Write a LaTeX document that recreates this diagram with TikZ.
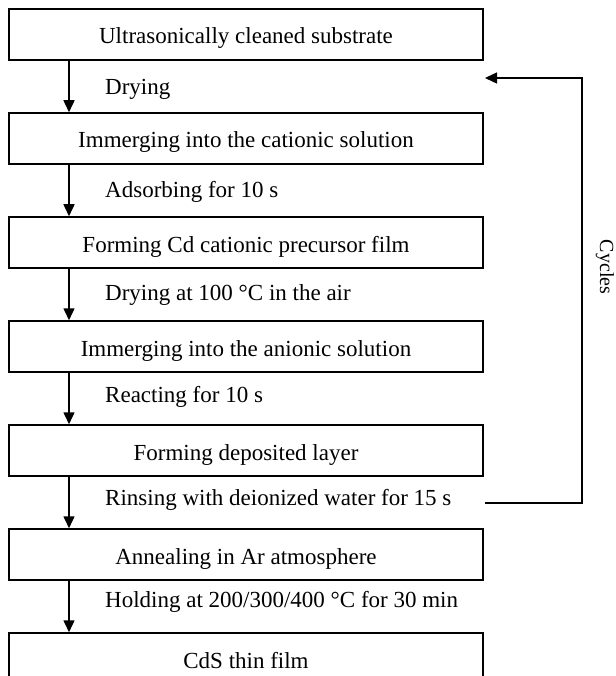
\documentclass[tikz,border=0pt]{standalone}
\usepackage{fontspec}
\setmainfont{Liberation Serif}
\usepackage{tikz}
\usetikzlibrary{positioning}
\usetikzlibrary{arrows.meta}
\tikzstyle{process} = [rectangle, minimum width=474pt, minimum height=51pt, inner sep=0pt, text height=19pt, text depth=0pt, text centered, draw=black, line width=1.5pt]
\tikzstyle{steptext} = [anchor=base west, inner sep=0pt]
\tikzstyle{arrow} = [line width=1.5pt,-{Triangle[width=11pt,length=12pt]}]

\begin{document}
\begin{tikzpicture}[x=1pt, y=-1pt, node distance=51.5pt, font=\fontsize{23}{27}\selectfont]
\useasboundingbox (0,0) rectangle (615,676);
\node (substrate) [process] at (246,34.5) {Ultrasonically cleaned substrate};
\node (cation) [process, below=of substrate] {Immerging into the cationic solution};
\node (precursor) [process, below=of cation] {Forming Cd cationic precursor film};
\node (anion) [process, below=of precursor] {Immerging into the anionic solution};
\node (layer) [process, below=of anion] {Forming deposited layer};
\node (anneal) [process, below=of layer] {Annealing in Ar atmosphere};
\node (film) [process, below=of anneal] {CdS thin film};

\node (drying) [steptext] at (105,95) {Drying};
\node (adsorb) [steptext] at (105,197.5) {Adsorbing for 10 s};
\node (dryair) [steptext] at (105,300) {Drying at 100 °C in the air};
\node (react) [steptext] at (105,402.5) {Reacting for 10 s};
\node (rinse) [steptext] at (105,505) {Rinsing with deionized water for 15 s};
\node (hold) [steptext] at (105,607.5) {Holding at 200/300/400 °C for 30 min};

\foreach \a/\b in {substrate/cation, cation/precursor, precursor/anion, anion/layer, layer/anneal, anneal/film}
    \draw [arrow] ([xshift=-177pt]\a.south) -- ([xshift=-177pt]\b.north);

% repeat loop
\coordinate (cyclestart) at (485,503);
\coordinate (cycleend) at (485,78);
\draw [arrow] (cyclestart) -- (582,503) -- (582,78) -- (cycleend);
\node (cycles) [rotate=-90, font=\fontsize{20}{24}\selectfont] at (605,267) {Cycles};
\end{tikzpicture}
\end{document}
